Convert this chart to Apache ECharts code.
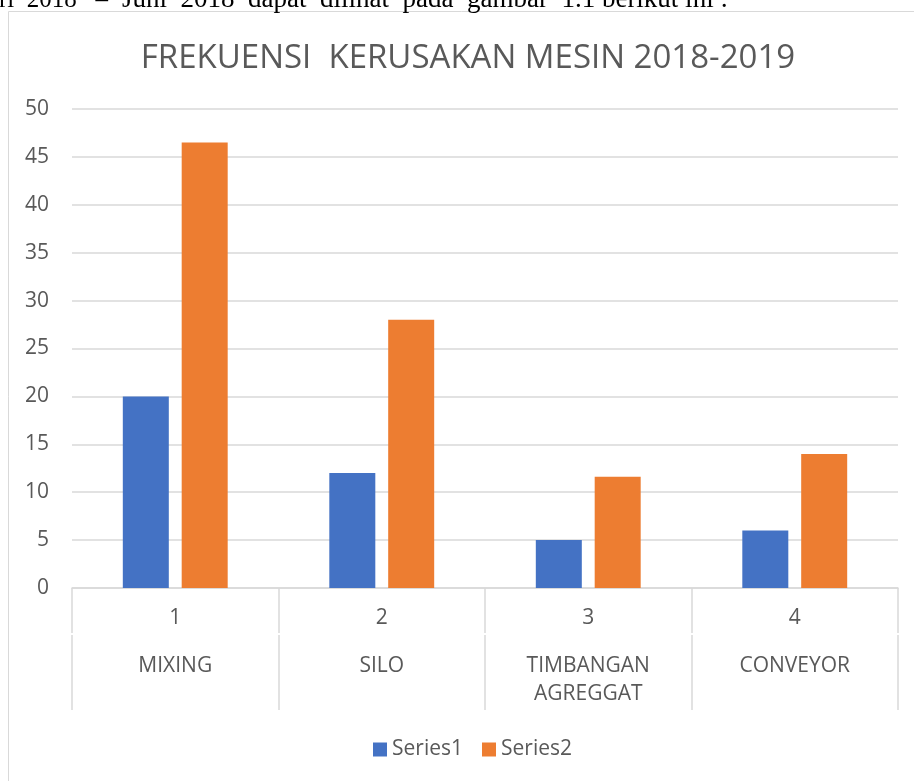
<!DOCTYPE html>
<html lang="en">
<head>
    <meta charset="UTF-8">
    <title>Frekuensi Kerusakan Mesin</title>
    <script src="https://cdn.jsdelivr.net/npm/echarts@6/dist/echarts.min.js"></script>
    <style>
        html, body { margin: 0; padding: 0; background: #fff; }
        #main { width: 914px; height: 781px; }
    </style>
</head>
<body>
<div id="main"></div>
<script>
    // data
    var nomor = ['1', '2', '3', '4'];
    var mesin = ['MIXING', 'SILO', 'TIMBANGAN\nAGREGGAT', 'CONVEYOR'];
    var series1 = [20, 12, 5, 6];
    var series2 = [46.5, 28, 11.6, 14];
    var yTicks = {min: 0, max: 50, step: 5};

    var txt = '#595959';
    var garis = '#d9d9d9';
    var font = '"Open Sans", "Noto Sans", sans-serif';
    var serif = '"Liberation Serif", "DejaVu Serif", serif';

    var myChart = echarts.init(document.getElementById('main'));
    var option = {
        animation: false,
        textStyle: {fontFamily: font},
        title: {
            text: 'FREKUENSI  KERUSAKAN MESIN 2018-2019',
            left: 463,
            textAlign: 'center',
            top: 37,
            textStyle: {color: txt, fontSize: 33, fontWeight: 'normal', fontFamily: font}
        },
        graphic: [
            {
                type: 'rect',
                shape: {x: 8.5, y: 11.5, width: 930, height: 800},
                style: {fill: 'none', stroke: garis, lineWidth: 1},
                z: -10
            },
            // potongan teks dokumen di atas gambar (rata kanan-kiri)
            {
                type: 'text',
                x: -1,
                y: 13,
                style: {text: 'ri  2018   –', font: '25px ' + serif, fill: '#000', verticalAlign: 'bottom'}
            },
            {
                type: 'text',
                x: 122,
                y: 13,
                style: {
                    text: 'Juni  2018  dapat  dilihat  pada  gambar  1.1 berikut ini :',
                    font: '27px ' + serif,
                    fill: '#000',
                    verticalAlign: 'bottom'
                }
            }
        ],
        legend: {
            data: ['Series1', 'Series2'],
            top: 734,
            left: 368,
            itemWidth: 14,
            itemHeight: 14,
            itemGap: 19,
            icon: 'rect',
            textStyle: {color: txt, fontSize: 21, fontFamily: font}
        },
        grid: {
            left: 72,
            right: 16,
            top: 109,
            bottom: 193
        },
        xAxis: [
            {
                type: 'category',
                data: nomor,
                position: 'bottom',
                axisLine: {lineStyle: {color: garis, width: 1.5}},
                axisTick: {show: true, interval: 0, length: 45, lineStyle: {color: garis, width: 1.5}},
                axisLabel: {color: txt, fontSize: 21, margin: 20, fontFamily: font}
            },
            {
                type: 'category',
                data: mesin,
                position: 'bottom',
                offset: 47,
                axisLine: {show: false},
                axisTick: {show: true, interval: 0, length: 75, lineStyle: {color: garis, width: 1.5}},
                axisLabel: {color: txt, fontSize: 21, margin: 17, lineHeight: 28, interval: 0, fontFamily: font}
            }
        ],
        yAxis: {
            type: 'value',
            min: yTicks.min,
            max: yTicks.max,
            interval: yTicks.step,
            axisLine: {show: false},
            axisTick: {show: false},
            axisLabel: {color: txt, fontSize: 21, margin: 23, fontFamily: font},
            splitLine: {lineStyle: {color: garis, width: 1.5}}
        },
        series: [
            {
                name: 'Series1',
                type: 'bar',
                xAxisIndex: 0,
                data: series1,
                barWidth: 46,
                barGap: '28%',
                itemStyle: {color: '#4472C4'}
            },
            {
                name: 'Series2',
                type: 'bar',
                xAxisIndex: 0,
                data: series2,
                barWidth: 46,
                barGap: '28%',
                itemStyle: {color: '#ED7D31'}
            }
        ]
    };
    myChart.setOption(option);
</script>
</body>
</html>
